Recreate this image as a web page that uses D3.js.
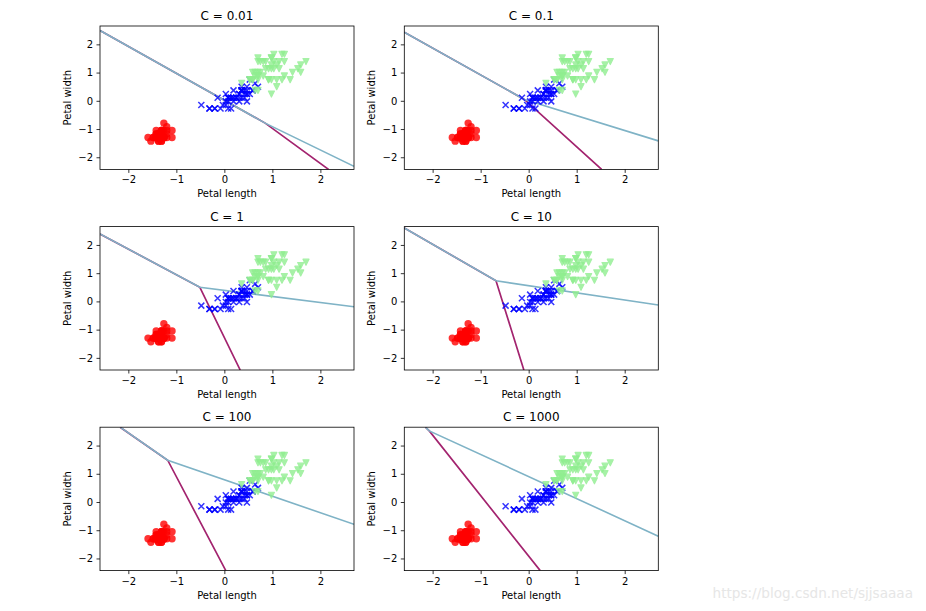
<!DOCTYPE html>
<html>
<head>
<meta charset="utf-8">
<script src="https://cdn.jsdelivr.net/npm/d3@7"></script>
<style>
  html, body { margin: 0; padding: 0; background: #fff; }
  svg { display: block; }
  text { font-family: "DejaVu Sans", sans-serif; fill: #000; }
</style>
</head>
<body>
<svg id="chart" width="926" height="611"></svg>
<script>
// ---- data (standardized petal length / petal width) ----
const cValues = ["0.01", "0.1", "1", "10", "100", "1000"];

const setosa = [
  [-1.37,-1.30],[-1.37,-1.30],[-1.42,-1.30],[-1.31,-1.30],[-1.37,-1.30],[-1.20,-1.05],[-1.37,-1.17],[-1.31,-1.30],
  [-1.37,-1.30],[-1.31,-1.43],[-1.31,-1.30],[-1.26,-1.30],[-1.37,-1.43],[-1.53,-1.43],[-1.48,-1.30],[-1.31,-1.05],
  [-1.42,-1.05],[-1.37,-1.17],[-1.20,-1.17],[-1.31,-1.17],[-1.20,-1.30],[-1.31,-1.05],[-1.59,-1.30],[-1.20,-0.92],
  [-1.09,-1.30],[-1.26,-1.30],[-1.26,-1.05],[-1.31,-1.30],[-1.37,-1.30],[-1.26,-1.30],[-1.26,-1.30],[-1.31,-1.05],
  [-1.31,-1.43],[-1.37,-1.30],[-1.31,-1.30],[-1.48,-1.30],[-1.42,-1.30],[-1.37,-1.43],[-1.42,-1.30],[-1.31,-1.30],
  [-1.42,-1.17],[-1.42,-1.17],[-1.42,-1.30],[-1.26,-0.79],[-1.09,-1.05],[-1.37,-1.17],[-1.26,-1.30],[-1.37,-1.30],
  [-1.31,-1.30],[-1.37,-1.30]
];
const versicolor = [
  [0.47,0.24],[0.36,0.37],[0.59,0.37],[0.08,0.11],[0.42,0.37],[0.36,0.11],[0.47,0.50],[-0.31,-0.27],
  [0.42,0.11],[0.03,0.24],[-0.20,-0.27],[0.19,0.37],[0.08,-0.27],[0.47,0.24],[-0.14,0.11],[0.31,0.24],
  [0.36,0.37],[0.14,-0.27],[0.36,0.37],[0.03,-0.15],[0.53,0.75],[0.08,0.11],[0.59,0.37],[0.47,-0.02],
  [0.25,0.11],[0.31,0.24],[0.53,0.24],[0.64,0.62],[0.36,0.37],[-0.20,-0.27],[-0.03,-0.15],[-0.08,-0.27],
  [0.03,-0.02],[0.70,0.50],[0.36,0.37],[0.36,0.50],[0.47,0.37],[0.31,0.11],[0.14,0.11],[0.08,0.11],
  [0.31,-0.02],[0.42,0.24],[0.08,-0.02],[-0.31,-0.27],[0.19,0.11],[0.19,-0.02],[0.19,0.11],[0.25,0.11],
  [-0.48,-0.15],[0.14,0.11]
];
const virginica = [
  [1.20,1.65],[0.70,0.88],[1.14,1.14],[0.98,0.75],[1.09,1.27],[1.53,1.14],[0.36,0.62],[1.37,0.75],
  [1.09,0.75],[1.25,1.65],[0.70,1.01],[0.81,0.88],[0.92,1.14],[0.64,1.01],[0.70,1.52],[0.81,1.39],
  [0.92,0.75],[1.59,1.27],[1.70,1.39],[0.64,0.37],[1.03,1.39],[0.59,1.01],[1.59,1.01],[0.59,0.75],
  [1.03,1.14],[1.20,0.75],[0.53,0.75],[0.59,0.75],[0.98,1.14],[1.09,0.50],[1.25,0.88],[1.42,1.01],
  [0.98,1.27],[0.70,0.37],[0.98,0.24],[1.25,1.39],[0.98,1.52],[0.92,0.75],[0.53,0.75],[0.86,1.14],
  [0.98,1.52],[0.70,1.39],[0.70,0.88],[1.14,1.39],[1.03,1.65],[0.75,1.39],[0.64,0.88],[0.75,1.01],
  [0.86,1.39],[0.70,0.75]
];

// decision boundary polylines per C (class 0|1 boundary, class 1|2 boundary)
const boundary01 = [
  [[-2.59,2.49],[0.85,-0.79],[2.17,-2.43]],
  [[-2.59,2.43],[-0.09,0.05],[1.52,-2.43]],
  [[-2.59,2.39],[-0.51,0.50],[0.33,-2.43]],
  [[-2.59,2.60],[-0.68,0.73],[-0.10,-2.43]],
  [[-2.17,2.65],[-1.18,1.48],[0.03,-2.43]],
  [[-2.15,2.65],[-2.07,2.52],[0.24,-2.43]]
];
const boundary12 = [
  [[-2.59,2.49],[0.85,-0.79],[2.70,-2.32]],
  [[-2.59,2.43],[-0.09,0.05],[2.70,-1.42]],
  [[-2.59,2.39],[-0.51,0.50],[2.70,-0.19]],
  [[-2.59,2.60],[-0.68,0.73],[2.70,-0.13]],
  [[-2.17,2.65],[-1.18,1.48],[2.70,-0.79]],
  [[-2.15,2.65],[-2.07,2.52],[2.70,-1.21]]
];

const xDomain = [-2.59, 2.70];
const yDomain = [-2.43, 2.65];
const tickValues = [-2, -1, 0, 1, 2];

// ---- layout ----
const svg = d3.select("#chart");
const colLefts = [100, 404.3];
const rowTops = [26, 226.6, 427.2];
const W = 254, H = 143.4;

const x = d3.scaleLinear().domain(xDomain).range([0, W]);
const y = d3.scaleLinear().domain(yDomain).range([H, 0]);
const line = d3.line().x(d => x(d[0])).y(d => y(d[1]));

const defs = svg.append("defs");
defs.append("clipPath").attr("id", "clip")
  .append("rect").attr("x", 0).attr("y", 0).attr("width", W).attr("height", H);

cValues.forEach((c, i) => {
  const col = i % 2, row = Math.floor(i / 2);
  const g = svg.append("g").attr("transform", `translate(${colLefts[col]},${rowTops[row]})`);

  const plot = g.append("g").attr("clip-path", "url(#clip)");
  plot.append("path").datum(boundary01[i]).attr("d", line)
    .attr("fill", "none").attr("stroke", "#a3246f").attr("stroke-width", 1.7);
  plot.append("path").datum(boundary12[i]).attr("d", line)
    .attr("fill", "none").attr("stroke", "#7fb3c6").attr("stroke-width", 1.6);

  plot.selectAll("circle.s").data(setosa).enter().append("circle")
    .attr("cx", d => x(d[0])).attr("cy", d => y(d[1])).attr("r", 3.7)
    .attr("fill", "red").attr("opacity", 0.8);

  plot.selectAll("path.v").data(versicolor).enter().append("path")
    .attr("transform", d => `translate(${x(d[0])},${y(d[1])})`)
    .attr("d", "M-3,-3L3,3M-3,3L3,-3")
    .attr("stroke", "blue").attr("stroke-width", 1.5).attr("fill", "none").attr("opacity", 0.8);

  plot.selectAll("path.g").data(virginica).enter().append("path")
    .attr("transform", d => `translate(${x(d[0])},${y(d[1])})`)
    .attr("d", "M0,3L-3,-3L3,-3Z")
    .attr("fill", "lightgreen").attr("stroke", "lightgreen").attr("stroke-width", 1.2)
    .attr("stroke-linejoin", "round").attr("opacity", 0.8);

  // axes
  const xa = g.append("g").attr("transform", `translate(0,${H})`)
    .call(d3.axisBottom(x).tickValues(tickValues).tickSize(3.5).tickPadding(3.5).tickFormat(d3.format("d")));
  const ya = g.append("g")
    .call(d3.axisLeft(y).tickValues(tickValues).tickSize(3.5).tickPadding(3.5).tickFormat(d3.format("d")));
  [xa, ya].forEach(a => {
    a.select(".domain").remove();
    a.selectAll(".tick line").attr("stroke", "#000").attr("stroke-width", 0.8);
    a.selectAll(".tick text").attr("font-size", 10).attr("font-family", "DejaVu Sans, sans-serif").attr("fill", "#000");
  });

  g.append("rect").attr("x", 0).attr("y", 0).attr("width", W).attr("height", H)
    .attr("fill", "none").attr("stroke", "#000").attr("stroke-width", 0.8);

  g.append("text").attr("x", W / 2).attr("y", -6).attr("text-anchor", "middle")
    .attr("font-size", 12).text(`C = ${c}`);
  g.append("text").attr("x", W / 2).attr("y", H + 28).attr("text-anchor", "middle")
    .attr("font-size", 10).text("Petal length");
  g.append("text").attr("transform", `translate(-29,${H / 2}) rotate(-90)`)
    .attr("text-anchor", "middle").attr("font-size", 10).text("Petal width");
});

svg.append("text").attr("x", 913).attr("y", 598).attr("text-anchor", "end")
  .attr("font-family", "Liberation Sans, Arial, sans-serif").attr("font-size", 13.6)
  .style("fill", "#e6e6e6").text("https://blog.csdn.net/sjjsaaaa");
</script>
</body>
</html>
